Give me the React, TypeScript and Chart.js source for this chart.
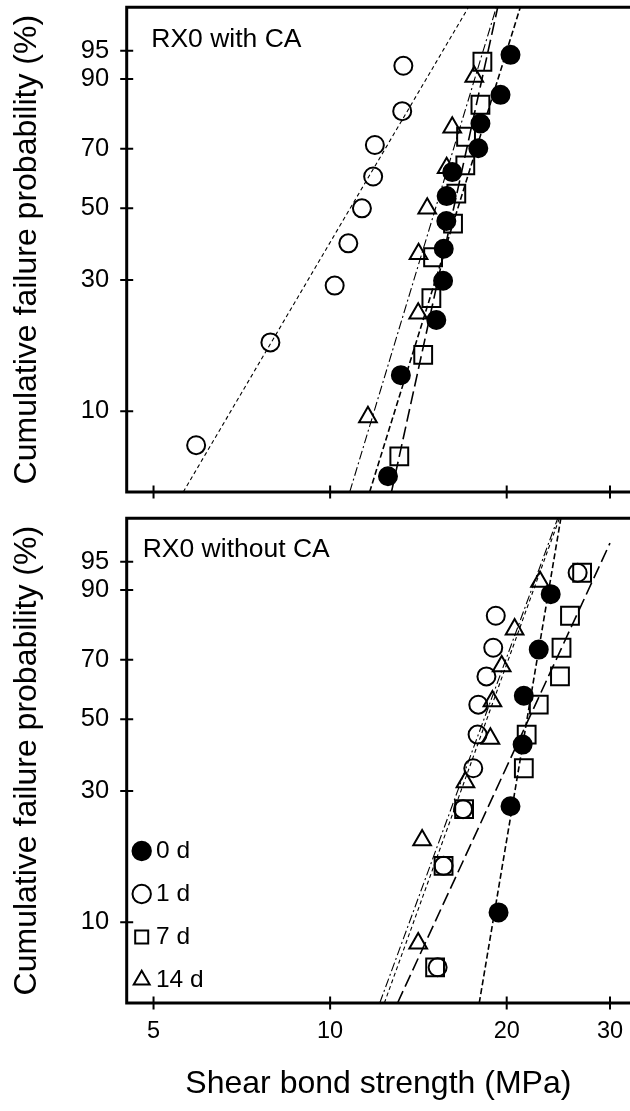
import React, { useEffect, useRef } from "react";
import { Chart, registerables } from "chart.js";

Chart.register(...registerables);

const FONT = "'Liberation Sans', Arial, Helvetica, sans-serif";

// ---------- axes ----------
const xTickValues = [5, 10, 20, 30];
const yTickPercents = [10, 30, 50, 70, 90, 95];
const X_MIN = 4.5;
const X_MAX = 32.45;
const FIT_X_LIMIT = 30;
const W_MIN = -3;
const W_MAX = 1.5;

const seriesLabels = ["0 d", "1 d", "7 d", "14 d"];

// ---------- RX0 with CA ----------
const withCA_0d_strength = [12.55, 13.2, 15.17, 15.58, 15.62, 15.78, 15.8, 16.15, 17.89, 18.04, 19.52, 20.3];
const withCA_0d_prob = [5.6, 13.7, 21.8, 29.8, 37.9, 46.0, 54.0, 62.1, 70.2, 78.2, 86.3, 94.4];
const withCA_1d_strength = [5.91, 7.91, 10.18, 10.74, 11.33, 11.84, 11.92, 13.27, 13.33];
const withCA_1d_prob = [7.4, 18.1, 28.7, 39.4, 50.0, 60.6, 71.3, 81.9, 92.6];
const withCA_7d_strength = [13.12, 14.41, 14.88, 14.98, 16.2, 16.41, 17.0, 17.05, 18.04, 18.18];
const withCA_7d_prob = [6.7, 16.3, 26.0, 35.6, 45.2, 54.8, 64.4, 74.0, 83.7, 93.3];
const withCA_14d_strength = [11.6, 14.13, 14.15, 14.64, 15.8, 16.15, 17.61];
const withCA_14d_prob = [9.5, 23.0, 36.5, 50.0, 63.5, 77.0, 90.5];
// Weibull fit lines (modulus, characteristic strength)
const withCA_fitModulus = [7.61, 4.02, 10.79, 7.82];
const withCA_fitScale = [17.32, 11.85, 16.8, 15.85];

// ---------- RX0 without CA ----------
const withoutCA_0d_strength = [19.37, 20.3, 21.29, 21.39, 22.68, 23.77];
const withoutCA_0d_prob = [10.9, 26.6, 42.2, 57.8, 73.4, 89.1];
const withoutCA_1d_strength = [15.25, 15.61, 16.85, 17.54, 17.84, 17.89, 18.47, 18.97, 19.16, 26.42];
const withoutCA_1d_prob = [6.7, 16.3, 26.0, 35.6, 45.2, 54.8, 64.4, 74.0, 83.7, 93.3];
const withoutCA_7d_strength = [15.1, 15.61, 16.92, 21.39, 21.63, 22.68, 24.65, 24.8, 25.64, 26.89];
const withoutCA_7d_prob = [6.7, 16.3, 26.0, 35.6, 45.2, 54.8, 64.4, 74.0, 83.7, 93.3];
const withoutCA_14d_strength = [14.13, 14.35, 17.01, 18.76, 18.91, 19.61, 20.63, 22.79];
const withoutCA_14d_prob = [8.3, 20.2, 32.1, 44.0, 56.0, 67.9, 79.8, 91.7];
const withoutCA_fitModulus = [14.05, 6.55, 5.12, 6.44];
const withoutCA_fitScale = [22.23, 19.56, 23.41, 19.36];

// ---------- styles ----------
const markerStyles = ["circle", "circle", "rect", "triangle"];
const markerRadii = [9.0, 9.0, 12.6, 10.2];
const markerFills = ["#000000", "rgba(0,0,0,0)", "rgba(0,0,0,0)", "rgba(0,0,0,0)"];
const lineDashes = [[6, 3], [4, 3], [13, 5], [9, 3, 2, 3]];
const lineWidths = [1.6, 1.1, 1.6, 1.1];

const weibullY = (pct: number) => Math.log(-Math.log(1 - pct / 100));

function fitLine(m: number, s0: number) {
  const lowX = s0 * Math.exp(W_MIN / m);
  let highW = W_MAX;
  let highX = s0 * Math.exp(W_MAX / m);
  if (highX > FIT_X_LIMIT) {
    highX = FIT_X_LIMIT;
    highW = m * Math.log(FIT_X_LIMIT / s0);
  }
  return [
    { x: lowX, y: W_MIN },
    { x: highX, y: highW },
  ];
}

const framePlugin = {
  id: "frame",
  afterDraw(chart: any) {
    const { ctx, chartArea: ca, scales } = chart;
    const xs = scales.x;
    const ys = scales.y;
    ctx.save();
    ctx.strokeStyle = "#000";
    ctx.setLineDash([]);
    ctx.lineWidth = 2;
    ctx.beginPath();
    xs.ticks.forEach((t: any) => {
      const px = xs.getPixelForValue(t.value);
      ctx.moveTo(px, ca.bottom - 6.5);
      ctx.lineTo(px, ca.bottom + 6.5);
    });
    ys.ticks.forEach((t: any) => {
      const py = ys.getPixelForValue(t.value);
      ctx.moveTo(ca.left - 6.5, py);
      ctx.lineTo(ca.left + 6.5, py);
    });
    ctx.stroke();
    ctx.lineWidth = 3;
    ctx.lineJoin = "miter";
    ctx.beginPath();
    ctx.moveTo(ca.right + 3, ca.top);
    ctx.lineTo(ca.left, ca.top);
    ctx.lineTo(ca.left, ca.bottom);
    ctx.lineTo(ca.right + 3, ca.bottom);
    ctx.stroke();
    ctx.restore();
  },
};

const panelTitlePlugin = {
  id: "panelTitle",
  afterDraw(chart: any, _args: any, opts: any) {
    if (!opts || !opts.text) return;
    const { ctx, chartArea: ca } = chart;
    ctx.save();
    ctx.font = `${opts.size}px ${FONT}`;
    ctx.fillStyle = "#000";
    ctx.textAlign = "left";
    ctx.textBaseline = "alphabetic";
    ctx.fillText(opts.text, ca.left + opts.dx, ca.top + opts.dy);
    ctx.restore();
  },
};

const legendPlacePlugin = {
  id: "legendPlace",
  afterLayout(chart: any, _args: any, opts: any) {
    const lg = chart.legend;
    if (!lg || !chart.options.plugins.legend.display || !opts) return;
    const ca = chart.chartArea;
    lg.left = ca.left + opts.dx;
    lg.right = ca.right;
    lg.top = ca.top;
    lg.bottom = ca.bottom + opts.dy;
  },
};

const zeroPadding = (scale: any) => {
  scale.paddingTop = 0;
  scale.paddingBottom = 0;
  scale.paddingLeft = 0;
  scale.paddingRight = 0;
};

type Panel = {
  strengths: number[][];
  probs: number[][];
  moduli: number[];
  scales: number[];
  title: string;
  titleDx: number;
  titleDy: number;
  padTop: number;
  xHeight: number;
  showXLabels: boolean;
  showLegend: boolean;
};

function buildConfig(p: Panel): any {
  const pointSets = p.strengths.map((s, i) => ({
    type: "scatter",
    label: seriesLabels[i],
    data: s.map((x, j) => ({ x, y: weibullY(p.probs[i][j]) })),
    showLine: false,
    pointStyle: markerStyles[i],
    pointRadius: markerRadii[i],
    pointHoverRadius: markerRadii[i],
    pointBackgroundColor: markerFills[i],
    backgroundColor: markerFills[i],
    pointBorderColor: "#000",
    borderColor: "#000",
    pointBorderWidth: 2,
    borderWidth: 2,
  }));
  const lineSets = p.moduli.map((m, i) => ({
    type: "scatter",
    label: seriesLabels[i] + " fit",
    data: fitLine(m, p.scales[i]),
    showLine: true,
    pointRadius: 0,
    pointHoverRadius: 0,
    borderColor: "#000",
    backgroundColor: "#000",
    borderWidth: lineWidths[i],
    borderDash: lineDashes[i],
    fill: false,
  }));

  return {
    type: "scatter",
    data: { datasets: [...pointSets, ...lineSets] },
    plugins: [framePlugin, panelTitlePlugin, legendPlacePlugin],
    options: {
      responsive: false,
      animation: false,
      devicePixelRatio: 1,
      events: [],
      layout: { autoPadding: false, padding: { top: p.padTop, left: 0, right: 0, bottom: 0 } },
      scales: {
        x: {
          type: "logarithmic",
          position: "bottom",
          min: X_MIN,
          max: X_MAX,
          afterBuildTicks: (scale: any) => {
            scale.ticks = xTickValues.map((v) => ({ value: v }));
          },
          afterFit: (scale: any) => {
            scale.height = p.xHeight;
            zeroPadding(scale);
          },
          grid: { display: false, drawTicks: false },
          border: { display: false },
          ticks: {
            display: p.showXLabels,
            autoSkip: false,
            maxRotation: 0,
            minRotation: 0,
            padding: 14,
            color: "#000",
            font: { family: FONT, size: 23.5 },
            callback: (_v: any, i: number) => String(xTickValues[i]),
          },
          title: {
            display: p.showXLabels,
            text: "Shear bond strength (MPa)",
            color: "#000",
            font: { family: FONT, size: 32 },
            padding: { top: 0, bottom: 8 },
          },
        },
        y: {
          type: "linear",
          position: "left",
          min: W_MIN,
          max: W_MAX,
          afterBuildTicks: (scale: any) => {
            scale.ticks = yTickPercents.map((pc) => ({ value: weibullY(pc) }));
          },
          afterFit: (scale: any) => {
            scale.width = 126.7;
            zeroPadding(scale);
          },
          grid: { display: false, drawTicks: false },
          border: { display: false },
          ticks: {
            autoSkip: false,
            padding: 17.5,
            color: "#000",
            font: { family: FONT, size: 25.5 },
            callback: (_v: any, i: number) => String(yTickPercents[i]),
          },
          title: {
            display: true,
            text: "Cumulative failure probability (%)",
            color: "#000",
            font: { family: FONT, size: 32 },
            padding: { top: 8, bottom: 0 },
          },
        },
      },
      plugins: {
        legend: {
          display: p.showLegend,
          position: "chartArea",
          align: "end",
          labels: {
            usePointStyle: true,
            boxWidth: 4,
            boxHeight: 13,
            padding: 18.5,
            color: "#000",
            font: { family: FONT, size: 24.5 },
            filter: (item: any) => item.datasetIndex < 4,
          },
        },
        legendPlace: { dx: -5.5, dy: 7.75 },
        tooltip: { enabled: false },
        panelTitle: { text: p.title, size: 26.5, dx: p.titleDx, dy: p.titleDy },
      },
    },
  };
}

const topPanel: Panel = {
  strengths: [withCA_0d_strength, withCA_1d_strength, withCA_7d_strength, withCA_14d_strength],
  probs: [withCA_0d_prob, withCA_1d_prob, withCA_7d_prob, withCA_14d_prob],
  moduli: withCA_fitModulus,
  scales: withCA_fitScale,
  title: "RX0 with CA",
  titleDx: 24.6,
  titleDy: 40,
  padTop: 7.3,
  xHeight: 8,
  showXLabels: false,
  showLegend: false,
};

const bottomPanel: Panel = {
  strengths: [withoutCA_0d_strength, withoutCA_1d_strength, withoutCA_7d_strength, withoutCA_14d_strength],
  probs: [withoutCA_0d_prob, withoutCA_1d_prob, withoutCA_7d_prob, withoutCA_14d_prob],
  moduli: withoutCA_fitModulus,
  scales: withoutCA_fitScale,
  title: "RX0 without CA",
  titleDx: 16,
  titleDy: 38.2,
  padTop: 18.3,
  xHeight: 108,
  showXLabels: true,
  showLegend: true,
};

function ChartPanel({ panel, top, height }: { panel: Panel; top: number; height: number }) {
  const ref = useRef<HTMLCanvasElement | null>(null);
  useEffect(() => {
    if (!ref.current) return;
    const chart = new Chart(ref.current, buildConfig(panel));
    return () => chart.destroy();
  }, [panel]);
  return (
    <canvas
      ref={ref}
      width={630}
      height={height}
      style={{ position: "absolute", left: 0, top, width: 630, height, display: "block" }}
    />
  );
}

export default function App() {
  return (
    <div style={{ position: "absolute", left: 0, top: 0, width: 630, height: 1111, background: "#fff", overflow: "hidden" }}>
      <ChartPanel panel={topPanel} top={0} height={500} />
      <ChartPanel panel={bottomPanel} top={500} height={611} />
    </div>
  );
}
